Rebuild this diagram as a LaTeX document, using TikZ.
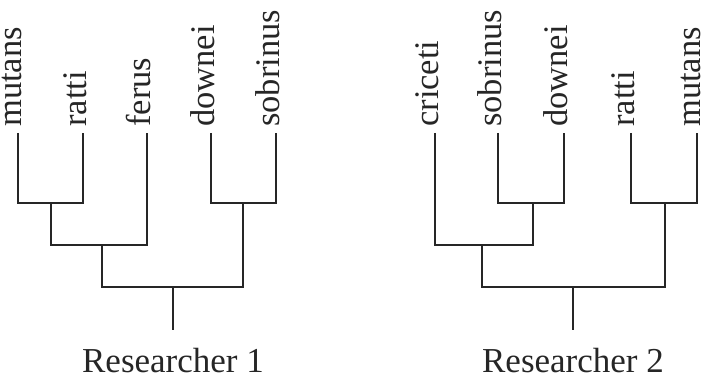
\documentclass[tikz,border=0pt]{standalone}
\usepackage{fontspec}
\setmainfont{Liberation Serif}
\begin{document}
\begin{tikzpicture}[x=1pt,y=-1pt,
  branch/.style={line width=2.4pt, line join=miter, color=black!85},
  leaf/.style={rotate=90, anchor=mid west, inner sep=0pt, font=\fontsize{34.5}{40}\selectfont, text=black!85},
  caption/.style={anchor=base, inner sep=0pt, font=\fontsize{35}{40}\selectfont, text=black!85}]
\useasboundingbox (0,0) rectangle (705,382);
% ---------- Researcher 1 ----------
\foreach \n/\x in {mutansA/18, rattiA/83, ferusA/147, downeiA/211, sobrinusA/276}{
  \coordinate (\n) at (\x,133);
}
\node[leaf] (lmutansA) at (19,127) {mutans};
\node[leaf] (lrattiA) at (84,127) {ratti};
\node[leaf] (lferusA) at (148,127) {ferus};
\node[leaf] (ldowneiA) at (212,127) {downei};
\node[leaf] (lsobrinusA) at (277,127) {sobrinus};
\coordinate (a1) at (51,203);
\coordinate (a2) at (102,245);
\coordinate (a3) at (243,203);
\coordinate (ar) at (173,287);
\coordinate (arb) at (173,330);
\draw[branch] (mutansA) |- (a1) -| (rattiA);
\draw[branch] (a1) |- (a2) -| (ferusA);
\draw[branch] (downeiA) |- (a3) -| (sobrinusA);
\draw[branch] (a2) |- (ar) -| (a3);
\draw[branch] (ar) -- (arb);
\node[caption] (capA) at (173,373) {Researcher 1};
% ---------- Researcher 2 ----------
\foreach \n/\x in {criceti/435, sobrinusB/498, downeiB/564, rattiB/631, mutansB/697}{
  \coordinate (\n) at (\x,133);
}
\node[leaf] (lcriceti) at (436,127) {criceti};
\node[leaf] (lsobrinusB) at (499,127) {sobrinus};
\node[leaf] (ldowneiB) at (565,127) {downei};
\node[leaf] (lrattiB) at (632,127) {ratti};
\node[leaf] (lmutansB) at (698,127) {mutans};
\coordinate (b1) at (533,203);
\coordinate (b2) at (482,245);
\coordinate (b3) at (665,203);
\coordinate (br) at (573,287);
\coordinate (brb) at (573,330);
\draw[branch] (sobrinusB) |- (b1) -| (downeiB);
\draw[branch] (criceti) |- (b2) -| (b1);
\draw[branch] (rattiB) |- (b3) -| (mutansB);
\draw[branch] (b2) |- (br) -| (b3);
\draw[branch] (br) -- (brb);
\node[caption] (capB) at (573,373) {Researcher 2};
\end{tikzpicture}
\end{document}
